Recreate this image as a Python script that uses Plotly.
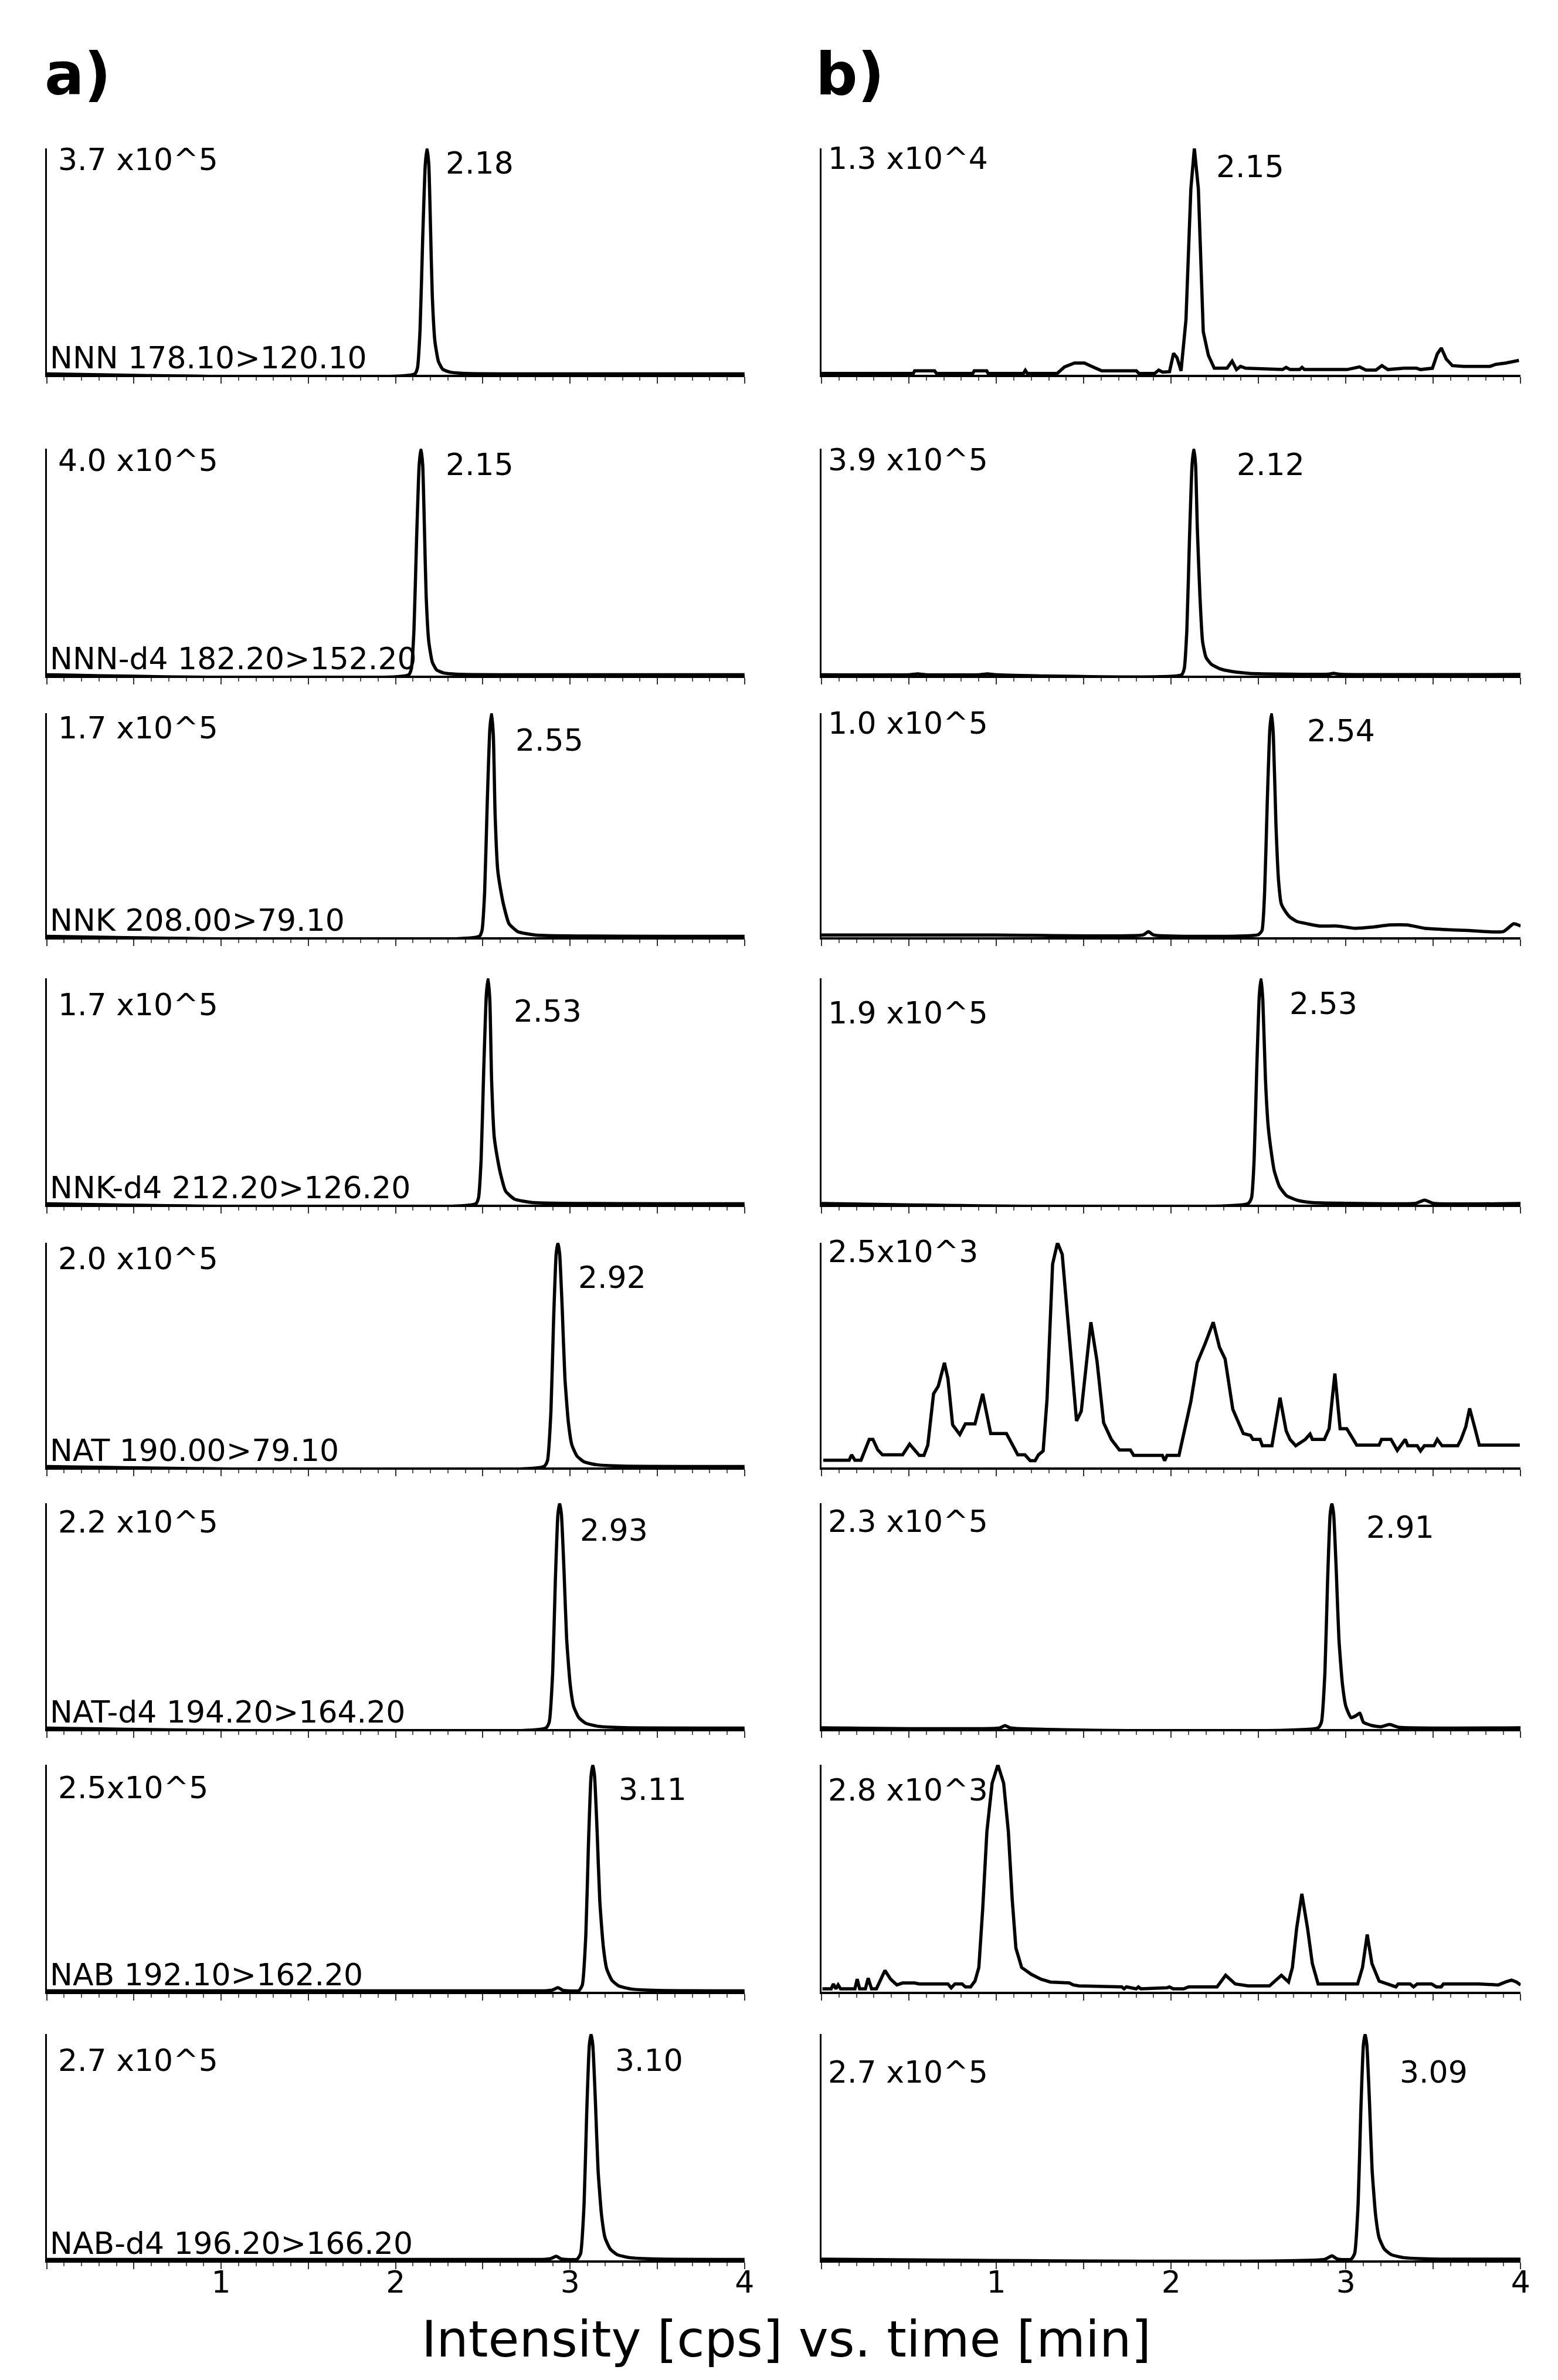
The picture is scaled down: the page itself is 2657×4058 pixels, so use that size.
import plotly.graph_objects as go

W, H = 2657, 4058
FONT = "DejaVu Sans"

# ---------------- data (time [min], intensity [cps]) ----------------
# a) standards
t_a1 = [0, 2.11, 2.125, 2.14, 2.155, 2.17, 2.18, 2.19, 2.2, 2.21, 2.225, 2.245, 2.27, 2.31, 2.4, 4.0]
i_a1 = [1500, 1500, 11000, 74000, 222000, 344000, 370000, 344000, 240000, 130000, 55000, 22000, 9000, 4400, 2200, 1500]

t_a2 = [0, 2.075, 2.09, 2.105, 2.12, 2.135, 2.145, 2.155, 2.165, 2.175, 2.19, 2.21, 2.235, 2.275, 2.37, 4.0]
i_a2 = [1600, 1600, 12000, 80000, 240000, 372000, 400000, 372000, 260000, 140000, 60000, 24000, 10000, 4800, 2400, 1600]

t_a3 = [0, 2.48, 2.495, 2.51, 2.525, 2.54, 2.55, 2.56, 2.57, 2.585, 2.6, 2.62, 2.65, 2.7, 2.8, 4.0]
i_a3 = [700, 700, 5100, 34000, 102000, 158000, 170000, 153000, 93500, 51000, 37400, 23800, 10200, 4250, 1700, 700]

t_a4 = [0, 2.46, 2.475, 2.49, 2.505, 2.52, 2.53, 2.54, 2.55, 2.565, 2.58, 2.6, 2.63, 2.68, 2.78, 4.0]
i_a4 = [700, 700, 5100, 34000, 102000, 158000, 170000, 153000, 93500, 51000, 37400, 23800, 10200, 4250, 1700, 700]

t_a5 = [0, 2.85, 2.87, 2.89, 2.905, 2.92, 2.93, 2.94, 2.955, 2.97, 2.99, 3.01, 3.04, 3.08, 3.15, 3.3, 4.0]
i_a5 = [800, 800, 6000, 50000, 130000, 190000, 200000, 190000, 140000, 80000, 40000, 20000, 10000, 5000, 2400, 1200, 800]

t_a6 = [0, 2.86, 2.88, 2.9, 2.915, 2.93, 2.94, 2.95, 2.965, 2.98, 3.0, 3.02, 3.05, 3.09, 3.16, 3.31, 4.0]
i_a6 = [880, 880, 6600, 55000, 143000, 209000, 220000, 209000, 154000, 88000, 44000, 22000, 11000, 5500, 2640, 1320, 880]

t_a7 = [0, 2.85, 2.9, 2.93, 2.96, 3.05, 3.07, 3.09, 3.105, 3.12, 3.13, 3.14, 3.155, 3.17, 3.19, 3.21, 3.24, 3.28, 3.35, 3.5, 4.0]
i_a7 = [1000, 1000, 2000, 4500, 1500, 1250, 7500, 62500, 162500, 237500, 250000, 237500, 175000, 100000, 50000, 25000, 12500, 6250, 3000, 1500, 1000]

t_a8 = [0, 2.84, 2.89, 2.92, 2.95, 3.04, 3.06, 3.08, 3.095, 3.11, 3.12, 3.13, 3.145, 3.16, 3.18, 3.2, 3.23, 3.27, 3.34, 3.5, 4.0]
i_a8 = [1080, 1080, 2160, 4860, 1620, 1350, 8100, 67500, 175500, 256500, 270000, 256500, 189000, 108000, 54000, 27000, 13500, 6750, 3240, 1620, 1080]

# b) sample
t_b1 = [0, 0.525, 0.533, 0.647, 0.658, 0.865, 0.874, 0.945, 0.953, 1.155, 1.166, 1.177, 1.348, 1.39, 1.447,
        1.504, 1.546, 1.603, 1.801, 1.816, 1.906, 1.929, 1.952, 1.991, 2.014, 2.034, 2.057, 2.085, 2.113,
        2.133, 2.156, 2.184, 2.213, 2.247, 2.32, 2.349, 2.374, 2.397, 2.426, 2.638, 2.658, 2.681, 2.735,
        2.749, 2.763, 3.007, 3.078, 3.115, 3.172, 3.206, 3.24, 3.333, 3.404, 3.427, 3.495, 3.523, 3.546,
        3.574, 3.609, 3.674, 3.824, 3.858, 3.915, 3.957, 3.99]
i_b1 = [75, 75, 225, 225, 75, 75, 225, 225, 75, 75, 255, 75, 75, 451, 676,
        676, 481, 225, 225, 75, 75, 270, 150, 180, 1232, 977, 225, 3156, 10671,
        13000, 10671, 2480, 1127, 376, 376, 782, 300, 481, 376, 300, 421, 300, 300,
        421, 300, 300, 451, 270, 270, 526, 300, 376, 376, 300, 376, 1202, 1533,
        902, 526, 481, 481, 601, 676, 752, 827]

t_b2 = [0, 0.5, 0.55, 0.6, 0.9, 0.95, 1.0, 2.06, 2.075, 2.09, 2.105, 2.12, 2.13, 2.14, 2.15, 2.165, 2.18, 2.2,
        2.23, 2.28, 2.35, 2.45, 2.9, 2.93, 2.96, 4.0]
i_b2 = [1500, 1500, 3000, 1500, 1500, 3000, 1500, 1500, 11700, 78000, 234000, 362700, 390000, 362700, 253500,
        136500, 58500, 31200, 19500, 11700, 7000, 3900, 2500, 4000, 2500, 2000]

t_b3 = [0, 1.0, 1.84, 1.87, 1.9, 2.5, 2.52, 2.535, 2.55, 2.565, 2.575, 2.585, 2.6, 2.615, 2.63, 2.65, 2.68,
        2.72, 2.78, 2.85, 2.95, 3.05, 3.15, 3.25, 3.35, 3.45, 3.55, 3.7, 3.9, 3.96, 4.0]
i_b3 = [1000, 1000, 1000, 2500, 1000, 1200, 3000, 20000, 60000, 93000, 100000, 90000, 50000, 25000, 15000,
        12000, 9000, 7000, 6000, 5000, 5000, 4000, 4500, 5500, 5500, 4000, 3500, 3000, 2500, 6000, 5000]

t_b4 = [0, 2.44, 2.46, 2.475, 2.49, 2.505, 2.515, 2.525, 2.54, 2.555, 2.57, 2.59, 2.62, 2.66, 2.72, 2.8, 3.0,
        3.4, 3.45, 3.5, 4.0]
i_b4 = [950, 950, 5700, 38000, 114000, 176700, 190000, 171000, 104500, 66500, 47500, 28500, 15200, 7600,
        3800, 1900, 1140, 1140, 3800, 1140, 950]

t_b5 = [0.01, 0.158, 0.172, 0.191, 0.226, 0.273, 0.294, 0.322, 0.349, 0.464, 0.504, 0.532, 0.559, 0.586,
        0.608, 0.641, 0.668, 0.703, 0.723, 0.75, 0.791, 0.823, 0.878, 0.922, 0.968, 1.058, 1.091, 1.123,
        1.164, 1.194, 1.222, 1.241, 1.268, 1.29, 1.322, 1.35, 1.377, 1.418, 1.459, 1.486, 1.541, 1.576,
        1.614, 1.658, 1.704, 1.767, 1.786, 1.95, 1.963, 1.977, 2.045, 2.113, 2.149, 2.195, 2.241, 2.277,
        2.309, 2.353, 2.413, 2.454, 2.468, 2.509, 2.522, 2.577, 2.623, 2.658, 2.68, 2.713, 2.768, 2.795,
        2.808, 2.877, 2.904, 2.937, 2.967, 3.005, 3.04, 3.062, 3.19, 3.204, 3.258, 3.294, 3.34, 3.354,
        3.408, 3.427, 3.449, 3.504, 3.523, 3.55, 3.64, 3.659, 3.686, 3.708, 3.736, 3.763, 3.995]
i_b5 = [80, 80, 140, 80, 80, 312, 312, 194, 140, 140, 259, 194, 134, 134,
        248, 819, 905, 1164, 991, 474, 366, 485, 485, 819, 377, 377, 259, 140,
        140, 75, 75, 140, 183, 754, 2263, 2500, 2371, 1401, 517, 625, 1616, 1185,
        496, 312, 194, 194, 134, 134, 75, 134, 134, 733, 1164, 1379, 1616, 1336,
        1207, 647, 377, 356, 312, 312, 241, 241, 776, 409, 312, 241, 312, 371,
        312, 312, 431, 1045, 431, 431, 312, 248, 248, 312, 312, 190, 312, 241,
        241, 183, 241, 241, 312, 241, 241, 312, 453, 657, 453, 248, 248]

t_b6 = [0, 1.02, 1.05, 1.08, 2.84, 2.86, 2.88, 2.895, 2.91, 2.92, 2.93, 2.945, 2.96, 2.98, 3.0, 3.03, 3.06,
        3.08, 3.1, 3.15, 3.2, 3.25, 3.3, 4.0]
i_b6 = [1150, 1150, 3450, 1150, 1150, 6900, 57500, 149500, 218500, 230000, 218500, 161000, 92000, 46000,
        23000, 11500, 13800, 16100, 6900, 3450, 2300, 4600, 1840, 1150]

t_b7 = [0.005, 0.055, 0.068, 0.082, 0.095, 0.109, 0.191, 0.204, 0.218, 0.251, 0.267, 0.286, 0.314, 0.363,
        0.395, 0.431, 0.464, 0.532, 0.559, 0.723, 0.742, 0.763, 0.804, 0.823, 0.853, 0.878, 0.9, 0.922,
        0.946, 0.976, 1.009, 1.042, 1.069, 1.091, 1.112, 1.145, 1.2, 1.254, 1.309, 1.418, 1.44, 1.472,
        1.718, 1.731, 1.745, 1.8, 1.813, 1.827, 1.977, 1.99, 2.012, 2.072, 2.1, 2.263, 2.312, 2.367, 2.44,
        2.563, 2.631, 2.672, 2.694, 2.718, 2.748, 2.781, 2.808, 2.841, 3.067, 3.095, 3.122, 3.149, 3.19,
        3.258, 3.286, 3.299, 3.367, 3.387, 3.408, 3.49, 3.517, 3.545, 3.558, 3.763, 3.872, 3.913, 3.948,
        3.976, 4.0]
i_b7 = [36, 36, 96, 36, 84, 36, 36, 156, 36, 36, 168, 36, 36, 263,
        156, 84, 108, 108, 96, 96, 48, 96, 96, 60, 60, 132, 299, 1017,
        1974, 2572, 2800, 2572, 1974, 1137, 538, 299, 215, 156, 120, 108, 84, 72,
        60, 36, 60, 36, 60, 36, 48, 60, 36, 36, 60, 60, 203, 96, 72,
        72, 203, 120, 299, 778, 1208, 778, 347, 96, 96, 299, 706, 347, 132,
        84, 60, 96, 96, 60, 96, 96, 60, 60, 96, 96, 84, 120, 144,
        120, 84]

t_b8 = [0, 2.88, 2.92, 2.95, 3.03, 3.05, 3.07, 3.085, 3.1, 3.11, 3.12, 3.135, 3.15, 3.17, 3.19, 3.22, 3.26,
        3.33, 3.5, 4.0]
i_b8 = [1350, 1350, 5400, 1620, 1350, 8100, 67500, 175500, 256500, 270000, 256500, 189000, 108000, 54000,
        27000, 13500, 6750, 3240, 1620, 1350]

fullscale_a = [3.7e5, 4.0e5, 1.7e5, 1.7e5, 2.0e5, 2.2e5, 2.5e5, 2.7e5]
fullscale_b = [1.3e4, 3.9e5, 1.0e5, 1.9e5, 2.5e3, 2.3e5, 2.8e3, 2.7e5]
scale_text_a = ["3.7 x10^5", "4.0 x10^5", "1.7 x10^5", "1.7 x10^5", "2.0 x10^5", "2.2 x10^5", "2.5x10^5", "2.7 x10^5"]
scale_text_b = ["1.3 x10^4", "3.9 x10^5", "1.0 x10^5", "1.9 x10^5", "2.5x10^3", "2.3 x10^5", "2.8 x10^3", "2.7 x10^5"]
channels = ["NNN 178.10>120.10", "NNN-d4 182.20>152.20", "NNK 208.00>79.10", "NNK-d4 212.20>126.20",
            "NAT 190.00>79.10", "NAT-d4 194.20>164.20", "NAB 192.10>162.20", "NAB-d4 196.20>166.20"]
rt_a = ["2.18", "2.15", "2.55", "2.53", "2.92", "2.93", "3.11", "3.10"]
rt_b = ["2.15", "2.12", "2.54", "2.53", "", "2.91", "", "3.09"]
tick_vals = [0, 0.5, 1, 1.5, 2, 2.5, 3, 3.5, 4]
tick_text = ["", "", "1", "", "2", "", "3", "", "4"]

series_a = [(t_a1, i_a1), (t_a2, i_a2), (t_a3, i_a3), (t_a4, i_a4), (t_a5, i_a5), (t_a6, i_a6), (t_a7, i_a7), (t_a8, i_a8)]
series_b = [(t_b1, i_b1), (t_b2, i_b2), (t_b3, i_b3), (t_b4, i_b4), (t_b5, i_b5), (t_b6, i_b6), (t_b7, i_b7), (t_b8, i_b8)]
smooth_a = [True] * 8
smooth_b = [False, True, True, True, False, True, False, True]

# ---------------- layout geometry (pixels) ----------------
row_top = [245, 757, 1208, 1660, 2111, 2555, 3001, 3460]
row_base = [631, 1144, 1590, 2046, 2494, 2940, 3388, 3846]
col_px = [(72, 1270), (1402, 2602)]
scale_lab_y = [[0.951, 0.948, 0.935, 0.883, 0.930, 0.917, 0.899, 0.883],
               [0.956, 0.951, 0.955, 0.847, 0.960, 0.919, 0.890, 0.832]]
rt_lab_y = [[0.935, 0.930, 0.880, 0.855, 0.846, 0.881, 0.891, 0.883],
            [0.919, 0.930, 0.921, 0.889, 0.0, 0.894, 0.0, 0.832]]
rt_lab_x = [[2.28, 2.28, 2.68, 2.67, 3.04, 3.05, 3.27, 3.25],
            [2.25, 2.37, 2.77, 2.67, 0.0, 3.11, 0.0, 3.30]]
scale_lab_x = [0.06, 0.03]
channel_x = 0.012

fig = go.Figure()
layout = dict(width=W, height=H, margin=dict(l=0, r=0, t=0, b=0),
              paper_bgcolor="white", plot_bgcolor="white", showlegend=False,
              font=dict(family=FONT, color="black", size=52))
annotations = []

k = 0
for c, (series, fulls, stexts, rts, smooth) in enumerate([
        (series_a, fullscale_a, scale_text_a, rt_a, smooth_a),
        (series_b, fullscale_b, scale_text_b, rt_b, smooth_b)]):
    for r in range(8):
        k += 1
        xs, ys = series[r]
        xa = "x" if k == 1 else f"x{k}"
        ya = "y" if k == 1 else f"y{k}"
        line = dict(color="black", width=5.5)
        if smooth[r]:
            line.update(shape="spline", smoothing=0.5)
        fig.add_trace(go.Scatter(x=xs, y=ys, mode="lines", xaxis=xa, yaxis=ya,
                                 line=line, hoverinfo="skip"))
        x0, x1 = col_px[c]
        xdom = [x0 / W, x1 / W]
        ydom = [1 - row_base[r] / H, 1 - row_top[r] / H]
        bottom = (r == 7)
        layout["xaxis" if k == 1 else f"xaxis{k}"] = dict(
            domain=xdom, anchor=ya, range=[0, 4], showgrid=False, zeroline=False,
            showline=True, linecolor="black", linewidth=4,
            ticks="outside", ticklen=11, tickwidth=2, tickcolor="#333333",
            tickmode="array", tickvals=tick_vals, ticktext=tick_text if bottom else [""] * len(tick_vals),
            ticklabelstandoff=-22,
            tickfont=dict(family=FONT, size=52, color="black"),
            minor=dict(ticks="outside", tickmode="linear", tick0=0, dtick=0.1, ticklen=6,
                       tickwidth=1.5, tickcolor="#555555"))
        layout["yaxis" if k == 1 else f"yaxis{k}"] = dict(
            domain=ydom, anchor=xa, range=[0, fulls[r]], showgrid=False, zeroline=False,
            showline=True, linecolor="black", linewidth=2.5, ticks="", showticklabels=False)
        ydref = f"{ya} domain"
        annotations.append(dict(xref=xa, yref=ydref, x=scale_lab_x[c], y=scale_lab_y[c][r],
                                text=stexts[r], showarrow=False, xanchor="left", yanchor="middle",
                                font=dict(family=FONT, size=52, color="black")))
        if rts[r]:
            annotations.append(dict(xref=xa, yref=ydref, x=rt_lab_x[c][r], y=rt_lab_y[c][r],
                                    text=rts[r], showarrow=False, xanchor="left", yanchor="middle",
                                    font=dict(family=FONT, size=52, color="black")))
        if c == 0:
            annotations.append(dict(xref=xa, yref=ydref, x=channel_x, y=0, yshift=-3,
                                    text=channels[r], showarrow=False, xanchor="left", yanchor="bottom",
                                    font=dict(family=FONT, size=52, color="black")))

annotations.append(dict(xref="paper", yref="paper", x=66 / W, y=1 - 118 / H, text="<b>a)</b>",
                        showarrow=False, xanchor="left", yanchor="middle",
                        font=dict(family=FONT, size=100, color="black")))
annotations.append(dict(xref="paper", yref="paper", x=1390 / W, y=1 - 118 / H, text="<b>b)</b>",
                        showarrow=False, xanchor="left", yanchor="middle",
                        font=dict(family=FONT, size=100, color="black")))
annotations.append(dict(xref="paper", yref="paper", x=1342 / W, y=1 - 3980 / H,
                        text="Intensity [cps] vs. time [min]",
                        showarrow=False, xanchor="center", yanchor="middle",
                        font=dict(family=FONT, size=86, color="black")))
layout["annotations"] = annotations
fig.update_layout(**layout)
fig.write_html("out.html")
